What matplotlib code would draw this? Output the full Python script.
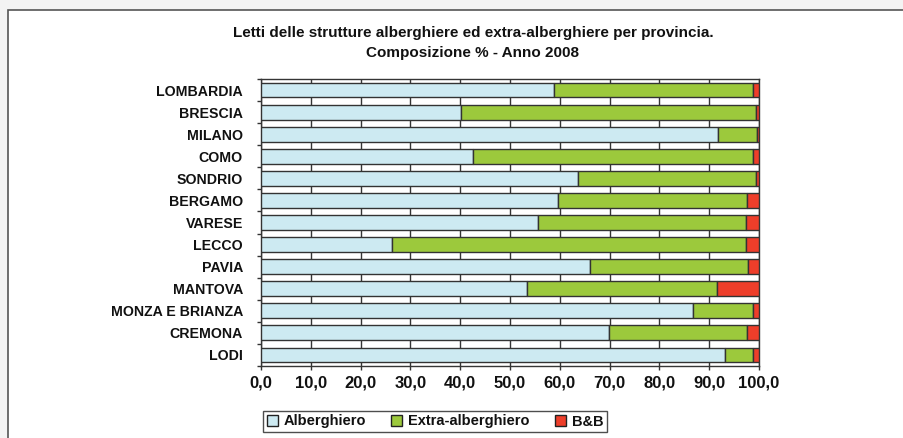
import matplotlib
matplotlib.use('Agg')
import matplotlib.pyplot as plt
from matplotlib.patches import Rectangle, Patch
import numpy as np

provinces = ["LOMBARDIA", "BRESCIA", "MILANO", "COMO", "SONDRIO", "BERGAMO",
             "VARESE", "LECCO", "PAVIA", "MANTOVA", "MONZA E BRIANZA",
             "CREMONA", "LODI"]
alberghiero = [58.9, 40.2, 91.8, 42.5, 63.7, 59.7, 55.7, 26.4, 66.1, 53.5, 86.7, 69.8, 93.1]
extra_alberghiero = [39.8, 59.2, 7.7, 56.3, 35.7, 37.8, 41.6, 71.0, 31.7, 38.1, 12.0, 27.8, 5.6]
bb = [1.3, 0.6, 0.5, 1.2, 0.6, 2.5, 2.7, 2.6, 2.2, 8.4, 1.3, 2.4, 1.3]
series_names = ["Alberghiero", "Extra-alberghiero", "B&B"]
xticks = [0, 10, 20, 30, 40, 50, 60, 70, 80, 90, 100]
title1 = "Letti delle strutture alberghiere ed extra-alberghiere per provincia."
title2 = "Composizione % - Anno 2008"

colors = ["#cdeaf2", "#9cc93c", "#ee3e2a"]
edge = "#333333"
FONT = "Liberation Sans"

W, H = 904, 438
fig = plt.figure(figsize=(W / 100, H / 100), dpi=100, facecolor="#f3f3f3")
bg = Rectangle((8 / W, -0.1), 1.0, (H - 10) / H + 0.1,
               transform=fig.transFigure, facecolor="white",
               edgecolor="#555555", lw=1.2, zorder=-10)
fig.patches.append(bg)

ax = fig.add_axes([261 / W, 1 - 366 / H, 498 / W, 287 / H])
ax.set_zorder(5)
y = np.arange(len(provinces))
a = np.array(alberghiero)
e = np.array(extra_alberghiero)
b = np.array(bb)
kw = dict(height=0.67, edgecolor=edge, linewidth=1, zorder=3)
ax.barh(y, a, color=colors[0], **kw)
ax.barh(y, e, left=a, color=colors[1], **kw)
ax.barh(y, b, left=a + e, color=colors[2], **kw)

ax.set_xlim(0, 100)
ax.set_ylim(len(provinces) - 0.5, -0.5)
ax.set_yticks(y)
ax.set_yticklabels(provinces, fontfamily=FONT, fontweight="bold", fontsize=10.2, color="#111111")
ax.tick_params(axis="y", which="major", length=0, pad=13)
ax.set_yticks(np.arange(-0.5, len(provinces)), minor=True)
ax.tick_params(axis="y", which="minor", length=3, width=1, color="#333333", direction="out")
ax.set_xticks(xticks)
ax.set_xticklabels([f"{v:.1f}".replace(".", ",") for v in xticks],
                   fontfamily=FONT, fontweight="bold", fontsize=12, color="#111111")
ax.tick_params(axis="x", length=3, width=1, color="#333333", pad=4)
ax.xaxis.grid(True, color="#353535", lw=1)
ax.set_axisbelow(True)
for s in ax.spines.values():
    s.set_color("#353535")
    s.set_linewidth(1)

fig.text(473 / W, 1 - 33 / H, title1, ha="center", va="center",
         fontfamily=FONT, fontweight="bold", fontsize=11, color="#111111", zorder=6)
fig.text(473 / W, 1 - 53 / H, title2, ha="center", va="center",
         fontfamily=FONT, fontweight="bold", fontsize=11, color="#111111", zorder=6)

handles = [Patch(facecolor=c, edgecolor="#222222", linewidth=1, label=n)
           for c, n in zip(colors, series_names)]
leg = fig.legend(handles=handles, loc="center", bbox_to_anchor=(435 / W, 1 - 421.5 / H),
                 ncol=3, frameon=True, fancybox=False, edgecolor="#222222",
                 handlelength=0.75, handleheight=0.75, handletextpad=0.4,
                 columnspacing=1.75, borderpad=0.25, borderaxespad=0,
                 prop=dict(family=FONT, weight="bold", size=10.5))
leg.set_zorder(6)
leg.get_frame().set_linewidth(1)
for t in leg.get_texts():
    t.set_color("#111111")

fig.savefig("out.png", dpi=100, facecolor=fig.get_facecolor())
